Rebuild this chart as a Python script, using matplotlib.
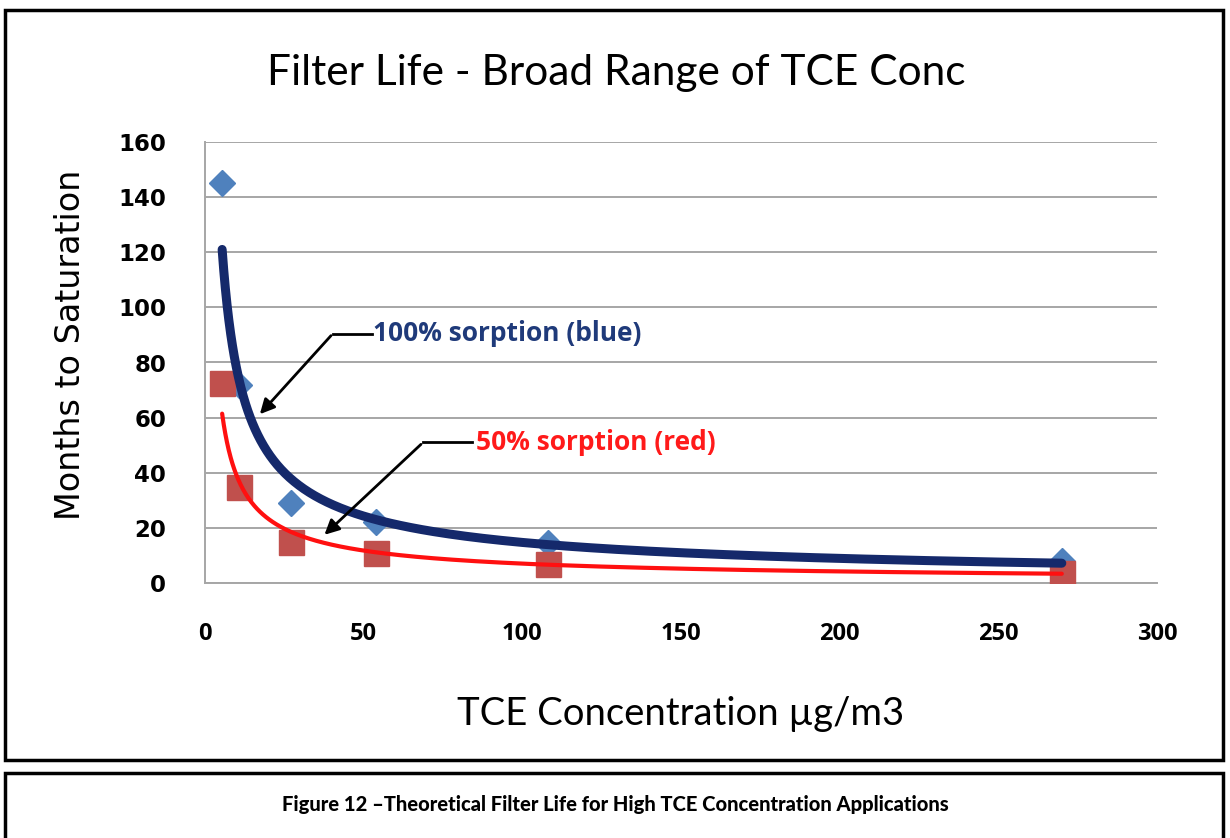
import numpy as np
import matplotlib.pyplot as plt
from matplotlib.patches import Rectangle

# TCE concentration (ug/m3) and months to saturation
conc = np.array([5.4, 10.8, 27, 54, 108, 270])
months_100 = np.array([145, 72, 29, 22, 14.5, 8])
months_50 = np.array([72.5, 35, 14.8, 11, 7, 3.6])

x_ticks = [0, 50, 100, 150, 200, 250, 300]
y_ticks = [0, 20, 40, 60, 80, 100, 120, 140, 160]

narrow = ['Lato', 'DejaVu Sans']


def power_fit(x, y):
    # excel style power trendline
    b, a = np.polyfit(np.log(x), np.log(y), 1)
    xs = np.geomspace(x.min(), x.max(), 300)
    return xs, np.exp(a) * xs ** b


fig = plt.figure(figsize=(12.3, 8.38), dpi=100)
ax = fig.add_axes([205 / 1230, 1 - 583 / 838, 952 / 1230, 441 / 838])

ax.plot(conc, months_100, 'D', color='#4F81BD', markersize=13, zorder=3)
ax.plot(conc, months_50, 's', color='#C0504D', markersize=18, zorder=4)

xs, ys = power_fit(conc, months_50)
ax.plot(xs, ys, color='#FF1010', lw=3, solid_capstyle='round', zorder=5)
xs, ys = power_fit(conc, months_100)
ax.plot(xs, ys, color='#15296B', lw=6.5, solid_capstyle='round', zorder=6)

ax.set_xlim(0, 300)
ax.set_ylim(0, 160)
ax.set_xticks(x_ticks)
ax.set_yticks(y_ticks)
ax.yaxis.grid(True, color='#A6A6A6', lw=1.4)
ax.set_axisbelow(True)
for s in ['top', 'right']:
    ax.spines[s].set_visible(False)
for s in ['left', 'bottom']:
    ax.spines[s].set_color('#A6A6A6')
    ax.spines[s].set_linewidth(1.4)
ax.tick_params(length=0)
ax.tick_params(axis='x', pad=28)
ax.tick_params(axis='y', pad=28)
for lab in ax.get_xticklabels():
    lab.set_family(['Open Sans', 'DejaVu Sans'])
    lab.set_fontweight('bold')
    lab.set_fontsize(17)
for lab in ax.get_yticklabels():
    lab.set_family('DejaVu Sans')
    lab.set_fontweight('bold')
    lab.set_fontsize(16.5)

ax.set_xlabel('TCE Concentration µg/m3', family=narrow, fontsize=27.5, labelpad=36)
fig.text(71 / 1230, 1 - 345 / 838, 'Months to Saturation', family='DejaVu Sans',
         fontsize=24, rotation=90, ha='center', va='center')

# annotations
ax.plot([40.3, 52.5], [90.5, 90.5], color='black', lw=2, zorder=7)
ax.annotate('', xy=(16.7, 60.5), xytext=(40.3, 90.5),
            arrowprops=dict(arrowstyle='-|>', color='black', lw=2, mutation_scale=22), zorder=7)
ax.text(53, 90.5, '100% sorption (blue)', color='#1F3A7A', fontsize=19,
        fontweight='bold', family=['Open Sans', 'DejaVu Sans'], va='center', ha='left')

ax.plot([68.7, 84], [51, 51], color='black', lw=2, zorder=7)
ax.annotate('', xy=(37, 16.8), xytext=(68.7, 51),
            arrowprops=dict(arrowstyle='-|>', color='black', lw=2, mutation_scale=22), zorder=7)
ax.text(85.5, 51, '50% sorption (red)', color='#FF1A1A', fontsize=19,
        fontweight='bold', family=['Open Sans', 'DejaVu Sans'], va='center', ha='left')

fig.text(616 / 1230, 1 - 73 / 838, 'Filter Life - Broad Range of TCE Conc',
         family=narrow, fontsize=30.5, ha='center', va='center')

# chart frame and caption box
fig.patches.append(Rectangle((5 / 1230, 1 - 760 / 838), 1218 / 1230, 750 / 838,
                             transform=fig.transFigure, fill=False, ec='black', lw=2.5))
fig.patches.append(Rectangle((5 / 1230, -0.05), 1218 / 1230, 0.05 + 65 / 838,
                             transform=fig.transFigure, fill=False, ec='black', lw=2.5))
fig.text(615 / 1230, 1 - 804 / 838,
         'Figure 12 \u2013Theoretical Filter Life for High TCE Concentration Applications',
         family=narrow, fontweight='black', fontsize=14.5, ha='center', va='center')

fig.savefig('out.png', dpi=100)
